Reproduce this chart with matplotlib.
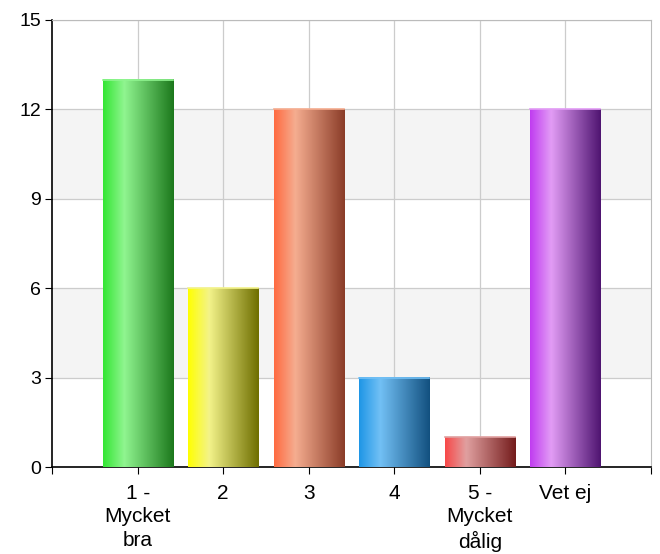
import numpy as np
import matplotlib
matplotlib.use("Agg")
import matplotlib.pyplot as plt
from matplotlib.colors import LinearSegmentedColormap

plt.rcParams['font.family'] = ['Liberation Sans', 'DejaVu Sans']

categories = ["1 -\nMycket\nbra", "2", "3", "4", "5 -\nMycket\ndålig", "Vet ej"]
values = [13, 6, 12, 3, 1, 12]
# farger per stapel: vanster kant, hoglager, hoger kant
bar_colors = [
    ("#33e633", "#90f590", "#1c781c"),
    ("#ffff00", "#f3f38a", "#6e6e00"),
    ("#ff6a40", "#f5ad90", "#8a3c28"),
    ("#1e96e6", "#72c0f5", "#12507f"),
    ("#f84848", "#e0a0a0", "#741c1c"),
    ("#c03cf0", "#e29cf5", "#4e1470"),
]
yticks = [0, 3, 6, 9, 12, 15]

fig = plt.figure(figsize=(6.6, 5.54), dpi=100)
ax = fig.add_axes([0.079, 0.157, 0.907, 0.807])

# bakgrundsband
for lo in [3, 9]:
    ax.axhspan(lo, lo + 3, color="#f4f4f4", zorder=0, lw=0)

ax.grid(True, color="#cccccc", lw=0.9, zorder=1)
ax.set_axisbelow(True)

w = 0.82
grad = np.linspace(0, 1, 256).reshape(1, -1)
for i, (v, cols) in enumerate(zip(values, bar_colors)):
    x = i + 1
    cmap = LinearSegmentedColormap.from_list("b%d" % i, [(0, cols[0]), (0.3, cols[1]), (1, cols[2])])
    ax.imshow(grad, cmap=cmap, extent=(x - w / 2, x + w / 2, 0, v), aspect="auto", zorder=3)
    # ljusare kant overst
    ax.plot([x - w / 2, x + w / 2], [v, v], color=cols[1], lw=1.2, zorder=4)

ax.set_xlim(0, 7)
ax.set_ylim(0, 15)
ax.set_aspect("auto")
ax.set_yticks(yticks)
ax.set_xticks(range(0, 8))
ax.set_xticklabels([""] + categories + [""], linespacing=1.3)
ax.tick_params(axis="both", length=5, color="black", direction="out")
ax.tick_params(axis="y", labelsize=14, pad=3)
ax.tick_params(axis="x", labelsize=15, pad=7)

# vertikala rutnat bara vid kategorierna
ax.xaxis.grid(False)
for x in range(1, 7):
    ax.axvline(x, color="#cccccc", lw=0.9, zorder=1)

for s in ["top", "right"]:
    ax.spines[s].set_color("#bbbbbb")
for s in ["left", "bottom"]:
    ax.spines[s].set_color("black")
    ax.spines[s].set_linewidth(1.2)

fig.savefig("out.png", dpi=100)
